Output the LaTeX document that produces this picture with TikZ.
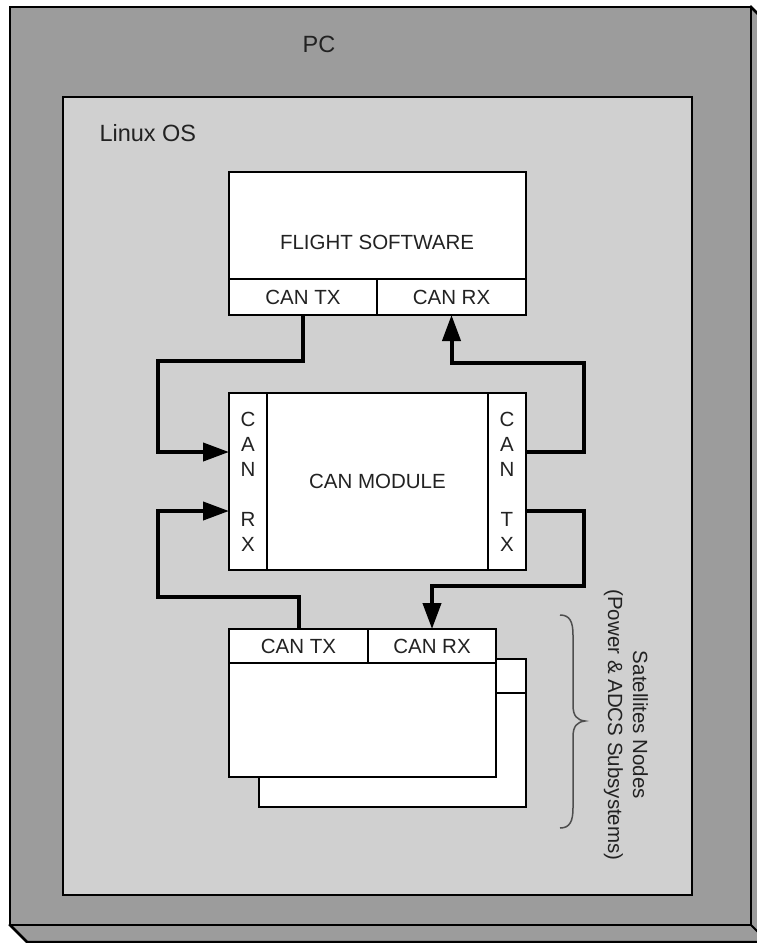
\documentclass[tikz,border=0pt]{standalone}
\usepackage{fontspec}
\setmainfont{Liberation Sans}
\usetikzlibrary{arrows.meta}
\definecolor{pcgray}{HTML}{9C9C9C}
\definecolor{osgray}{HTML}{D0D0D0}
\definecolor{txt}{HTML}{222222}
\begin{document}
\begin{tikzpicture}[x=1pt,y=-1pt,
  lbl/.style={text=txt,font=\fontsize{20.5}{25}\selectfont},
  biglbl/.style={text=txt,font=\fontsize{23.5}{28}\selectfont},
  blk/.style={draw=black,line width=2pt,fill=white,inner sep=0pt,outer sep=0pt,anchor=north west,lbl},
  conn/.style={line width=4pt,-{Triangle[length=26pt,width=18pt]}},
  ]
\useasboundingbox (0,0) rectangle (757,943);
\clip (0,0) rectangle (757,943);
% PC 3D box
\filldraw[fill=pcgray,draw=black,line width=2.5pt,line join=miter]
  (751,7) -- (768,24) -- (768,942) -- (27,942) -- (10,925) -- cycle;
\draw[line width=2pt] (751,925) -- (768,942);
\node[draw=black,line width=2.5pt,fill=pcgray,inner sep=0pt,outer sep=0pt,anchor=north west,
  minimum width=741pt,minimum height=918pt] (pc) at (10,7) {};
\node[biglbl] (pclbl) at (319,44) {PC};
% Linux OS box
\node[draw=black,line width=2.5pt,fill=osgray,inner sep=0pt,outer sep=0pt,anchor=north west,
  minimum width=629pt,minimum height=798pt] (os) at (63,97) {};
\node[biglbl,anchor=west] (oslbl) at (96,133) {Linux OS};
% Flight software
\node[blk,minimum width=297pt,minimum height=107pt] (fsmain) at (229,172) {};
\node[lbl] at (377,242) {FLIGHT SOFTWARE};
\node[blk,minimum width=148pt,minimum height=36pt] (fstx) at (229,279) {};
\node[lbl] at (fstx.center) {CAN TX};
\node[blk,minimum width=149pt,minimum height=36pt] (fsrx) at (377,279) {};
\node[lbl] at (fsrx.center) {CAN RX};
% CAN module
\node[blk,minimum width=221pt,minimum height=177pt] (canmain) at (267,393) {};
\node[lbl] at (canmain.center) {CAN MODULE};
\node[blk,minimum width=38pt,minimum height=177pt] (canrx) at (229,393) {};
\node[lbl,align=center] at (canrx.center) {C\\A\\N\\[25pt]R\\X};
\node[blk,minimum width=38pt,minimum height=177pt] (cantx) at (488,393) {};
\node[lbl,align=center] at (cantx.center) {C\\A\\N\\[25pt]T\\X};
% Satellite nodes (stacked)
\node[blk,minimum width=267pt,minimum height=148pt] (satback) at (259,659) {};
\draw[line width=2pt] (259,693) -- (526,693);
\node[blk,minimum width=267pt,minimum height=114pt] (satbody) at (229,663) {};
\node[blk,minimum width=139pt,minimum height=34pt] (sattx) at (229,629) {};
\node[lbl] at (sattx.center) {CAN TX};
\node[blk,minimum width=128pt,minimum height=34pt] (satrx) at (368,629) {};
\node[lbl] at (satrx.center) {CAN RX};
% Connectors
\draw[conn] (fstx.south) -- ++(0,46) -| (158,452) -- ([yshift=29.5pt]canrx.west);
\draw[conn] ([yshift=29.5pt]cantx.east) -| (584,363) -| (fsrx.south);
\draw[conn] ([yshift=-29.5pt]cantx.east) -| (584,586) -| (satrx.north);
\draw[conn] (sattx.north) |- (158,597) |- ([yshift=-29.5pt]canrx.west);
% Brace
\draw[line width=1.5pt,draw=txt!80!white]
  (560,615) .. controls (570,615) and (573,622) .. (573,635) -- (573,705)
  .. controls (573,716) and (577,720) .. (585,721)
  .. controls (577,722) and (573,726) .. (573,737) -- (573,808)
  .. controls (573,821) and (570,828) .. (560,828);
\node[lbl,rotate=-90,align=center] (satlbl) at (626,725)
  {Satellites Nodes\\(Power \& ADCS Subsystems)};
\end{tikzpicture}
\end{document}
